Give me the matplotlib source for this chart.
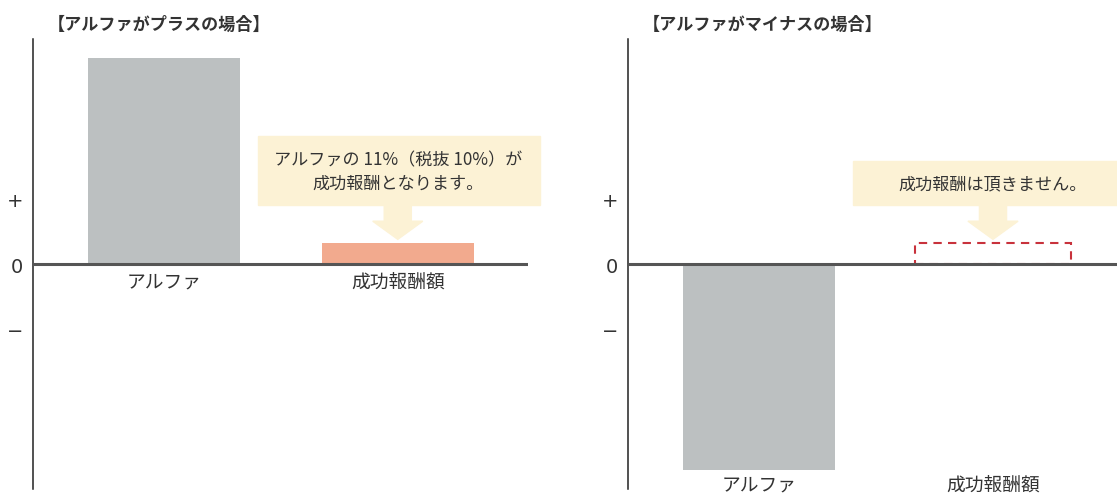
import matplotlib.pyplot as plt
from matplotlib.patches import Rectangle, Polygon

plt.rcParams['font.family'] = ['Noto Sans CJK JP', 'DejaVu Sans']

categories = ['アルファ', '成功報酬額']
plus_values = [100, 10]
minus_values = [-100, 0]
missed_fee = 10
titles = ['【アルファがプラスの場合】', '【アルファがマイナスの場合】']
notes = ['アルファの 11%（税抜 10%）が\n成功報酬となります。', '成功報酬は頂きません。']
tick_pos = [32, 0, -31]
tick_labels = ['+', '0', '−']

GRAY = '#bcc0c1'
SALMON = '#f2aa8e'
CREAM = '#fcf2d5'
RED = '#c8323c'


def callout(ax, x, y_tip, top, text):
    # cream box with a fat arrow pointing down at the fee bar
    left, right, bottom = x - 0.597, x + 0.61, y_tip + 16.5
    ax.add_patch(Rectangle((left, bottom), right - left, top - bottom,
                           color=CREAM, clip_on=False, zorder=1))
    bw, hw, hy = 0.058, 0.107, y_tip + 8.8
    ax.add_patch(Polygon([(x - bw, bottom), (x + bw, bottom), (x + bw, hy), (x + hw, hy),
                          (x, y_tip), (x - hw, hy), (x - bw, hy)],
                         closed=True, color=CREAM, clip_on=False, zorder=1))
    ax.text(x, (top + bottom) / 2, text, ha='center', va='center', fontsize=12.3,
            color='#333333', linespacing=1.4, zorder=2)


fig = plt.figure(figsize=(11.17, 5.02), dpi=100)
ax1 = fig.add_axes([0.0295, 0.0239, 0.443, 0.896])
ax2 = fig.add_axes([0.5622, 0.0239, 0.4378, 0.896])

x = [0, 1]
ax1.bar(x, plus_values, width=0.65, color=[GRAY, SALMON], zorder=2)
ax2.bar(x[0], minus_values[0], width=0.65, color=GRAY, zorder=2)
ax2.bar(x[1], missed_fee, width=0.67, fill=False, edgecolor=RED, linestyle=(0, (4, 3)),
        linewidth=1.5, zorder=2)

callout(ax1, 1, plus_values[1] + 2, 62, notes[0])
callout(ax2, 1, missed_fee + 2, 50, notes[1])

for ax, title in zip([ax1, ax2], titles):
    ax.set_ylim(-109, 109)
    ax.axhline(0, color='#555555', lw=2.2, zorder=3)
    for s in ['top', 'right', 'bottom']:
        ax.spines[s].set_visible(False)
    ax.spines['left'].set_linewidth(1.1)
    ax.spines['left'].set_color('#222222')
    ax.set_xticks([])
    ax.set_yticks(tick_pos)
    ax.set_yticklabels(tick_labels, fontsize=14, color='#333333', family='DejaVu Sans')
    ax.tick_params(axis='y', length=0, pad=7)
    ax.text(0.03, 1.035, title, transform=ax.transAxes, fontsize=12.3, fontweight='bold',
            color='#333333', va='center', ha='left')

ax1.set_xlim(-0.56, 1.556)
ax2.set_xlim(-0.56, 1.53)

for xi, c in zip(x, categories):
    ax1.text(xi, -3, c, ha='center', va='top', fontsize=13.5, color='#333333')
    ax2.text(xi, -101.5, c, ha='center', va='top', fontsize=13.5, color='#333333')

fig.savefig('out.png', dpi=100)
